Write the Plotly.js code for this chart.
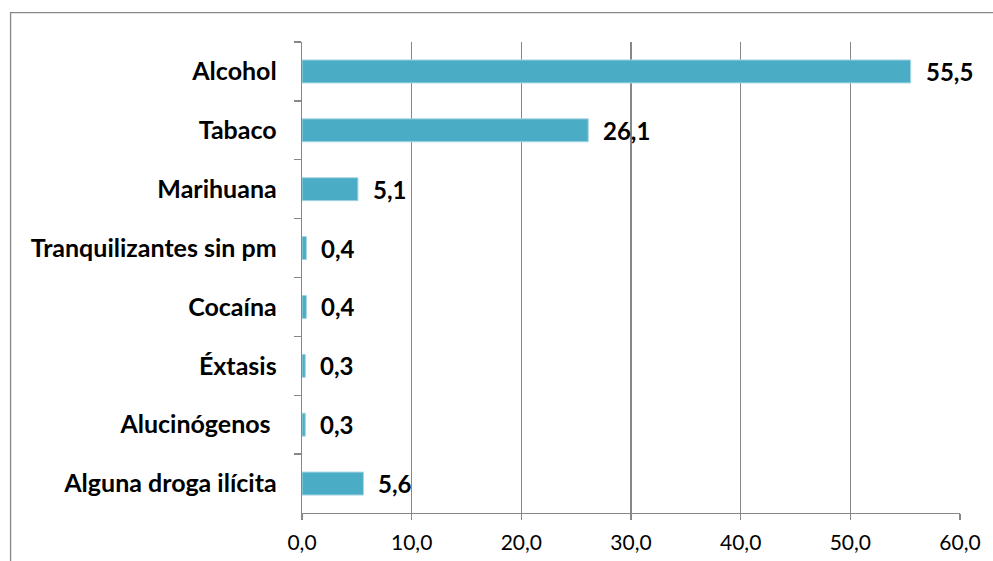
<!DOCTYPE html>
<html>
<head>
<meta charset="utf-8">
<script src="https://cdn.plot.ly/plotly-3.0.1.min.js"></script>
<style>
html,body{margin:0;padding:0;background:#fff;}
#chart{width:993px;height:561px;}
</style>
</head>
<body>
<div id="chart"></div>
<script>
const categories = ["Alcohol","Tabaco","Marihuana","Tranquilizantes sin pm","Cocaína","Éxtasis","Alucinógenos\u00a0","Alguna droga ilícita"];
const values = [55.5, 26.1, 5.1, 0.4, 0.4, 0.3, 0.3, 5.6];
const xTickValues = [0, 10, 20, 30, 40, 50, 60];

const fmt = v => v.toFixed(1).replace('.', ',');

const trace = {
  type: 'bar',
  orientation: 'h',
  x: values,
  y: categories,
  marker: {color: '#4BACC6', line: {color: '#A5D5E2', width: 1}},
  width: 0.39,
  hoverinfo: 'x+y'
};

const annotations = values.map((v, i) => ({
  x: v, y: categories[i], xref: 'x', yref: 'y',
  text: fmt(v), showarrow: false, xanchor: 'left', yanchor: 'middle',
  xshift: 13, yshift: 0,
  font: {family: 'Lato, sans-serif', size: 24, color: '#000', weight: 'bold'}
}));

const layout = {
  width: 993, height: 561,
  margin: {l: 301.5, r: 33.3, t: 42, b: 47.7},
  paper_bgcolor: '#fff', plot_bgcolor: '#fff',
  separators: ',.',
  showlegend: false,
  xaxis: {
    range: [0, 60], tickvals: xTickValues, tickformat: '.1f',
    showgrid: true, gridcolor: '#878787', gridwidth: 1.3,
    showline: true, linecolor: '#878787', linewidth: 1.3,
    zeroline: false,
    ticks: 'outside', ticklen: 6, tickcolor: '#878787', tickwidth: 1.3,
    ticklabelstandoff: 4,
    tickfont: {family: 'Lato, sans-serif', size: 21, color: '#000'}
  },
  yaxis: {
    type: 'category', autorange: 'reversed',
    showline: true, linecolor: '#878787', linewidth: 1.3,
    ticks: 'outside', tickson: 'boundaries', ticklen: 7, tickcolor: '#878787', tickwidth: 1.3,
    showgrid: false, zeroline: false,
    ticklabelstandoff: 19,
    tickfont: {family: 'Lato, sans-serif', size: 25, color: '#000', weight: 'bold'}
  },
  annotations: annotations,
  shapes: [{
    type: 'rect', xref: 'paper', yref: 'paper',
    x0: -0.4429, x1: 1.2, y0: -0.3, y1: 1.0622,
    line: {color: '#878787', width: 1.3}, fillcolor: 'rgba(0,0,0,0)', layer: 'below'
  }]
};

Plotly.newPlot('chart', [trace], layout, {displayModeBar: false, staticPlot: true});
</script>
</body>
</html>
